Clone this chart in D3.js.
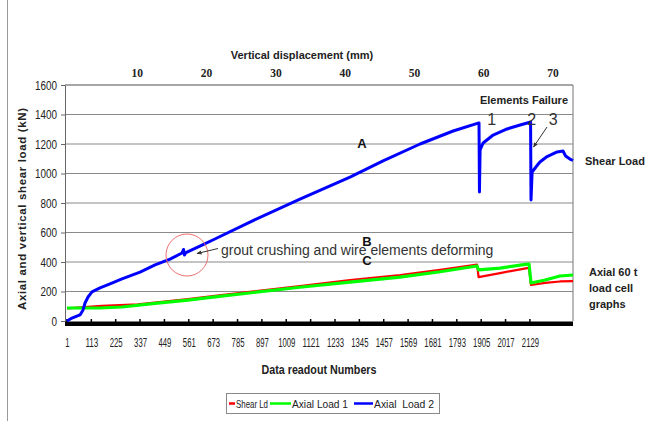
<!DOCTYPE html>
<html><head><meta charset="utf-8">
<script src="https://cdn.jsdelivr.net/npm/d3@7"></script>
<style>body{margin:0;background:#fff}svg{display:block}</style>
</head><body>
<svg id="c" width="649" height="421"></svg>
<script>
// readout numbers and loads (kN)
const blueN = [1,24,61,75,84,98,116,153,199,254,337,406,475,530,537,541,548,612,681,842,1072,1302,1454,1624,1776,1891,1895,1897,1900,1914,1960,2024,2084,2125,2132,2134,2139,2160,2175,2208,2254,2281,2293,2313,2327];
const blueV = [0,20,41,75,122,163,197,224,251,285,332,380,420,461,485,447,464,508,556,671,827,976,1085,1200,1288,1342,1342,875,1160,1207,1261,1302,1329,1346,1349,820,1010,1051,1078,1115,1146,1153,1119,1098,1088];
const greenN = [1,153,254,406,557,681,1072,1302,1532,1716,1886,1893,1992,2116,2125,2134,2199,2267,2327];
const greenV = [88,88,95,119,142,163,229,264,298,334,373,346,359,386,386,258,278,305,312];
const redN = [1,161,327,557,681,1072,1302,1532,1716,1886,1893,1992,2116,2125,2134,2199,2267,2327];
const redV = [86,102,113,149,170,237,278,312,346,383,298,325,359,359,244,258,268,271];
const yTicks = [0,200,400,600,800,1000,1200,1400,1600];
const xTickLabels = [1,113,225,337,449,561,673,785,897,1009,1121,1233,1345,1457,1569,1681,1793,1905,2017,2129];
const topTicks = [10,20,30,40,50,60,70];
const seriesNames = ["Shear Ld","Axial Load 1","Axial  Load 2"];
const seriesColors = ["#ff0000","#00ff00","#0000ff"];

const svg = d3.select("#c");
const sans = "'Liberation Sans',Arial,sans-serif";
const x = d3.scaleLinear().domain([-8,2327]).range([65,573]);
const y = d3.scaleLinear().domain([0,1600]).range([321,85]);
const xmm = d3.scaleLinear().domain([0,70]).range([67.5,552.6]);
const narrowLen = (s, w) => String(s).length * w;

// outer frame left line
svg.append("line").attr("x1",7.5).attr("x2",7.5).attr("y1",0).attr("y2",421).attr("stroke","#999").attr("stroke-width",1);

// gridlines
svg.append("g").selectAll("line").data(yTicks.filter(d=>d>0)).join("line")
  .attr("x1",65).attr("x2",573).attr("y1",d=>y(d)).attr("y2",d=>y(d))
  .attr("stroke","#8a8a8a").attr("stroke-width",1.2);
svg.append("line").attr("x1",573).attr("x2",573).attr("y1",y(1600)).attr("y2",y(0)).attr("stroke","#8a8a8a").attr("stroke-width",1.2);

// y axis
const yAxis = d3.axisLeft(y).tickValues(yTicks).tickSize(4).tickPadding(4).tickFormat(d3.format("d"));
const gy = svg.append("g").attr("transform","translate(65,0)").call(yAxis);
gy.select(".domain").attr("stroke","#666");
gy.selectAll(".tick line").attr("stroke","#666");
gy.selectAll("text").attr("font-family",sans).attr("font-size",12.5).attr("fill","#222")
  .attr("textLength",d=>narrowLen(d,5.5)).attr("lengthAdjust","spacingAndGlyphs");

// bottom axis band
svg.append("rect").attr("x",65).attr("y",321.5).attr("width",508).attr("height",4.5).attr("fill","#000");
const xAxis = d3.axisBottom(x).tickValues(xTickLabels).tickSize(0).tickPadding(15).tickFormat(d3.format("d"));
const gx = svg.append("g").attr("transform","translate(0,323)").call(xAxis);
gx.select(".domain").remove();
gx.selectAll("text").attr("font-family",sans).attr("font-size",12.5).attr("fill","#222")
  .attr("textLength",d=>narrowLen(d,4.3)).attr("lengthAdjust","spacingAndGlyphs");
svg.append("g").selectAll("line").data(xTickLabels).join("line")
  .attr("x1",d=>x(d)).attr("x2",d=>x(d)).attr("y1",319).attr("y2",322).attr("stroke","#000").attr("stroke-width",1.5);

// top axis
const tAxis = d3.axisTop(xmm).tickValues(topTicks).tickSize(0).tickPadding(8);
const gt = svg.append("g").attr("transform","translate(0,85)").call(tAxis);
gt.select(".domain").attr("stroke","#8a8a8a").attr("stroke-width",1.2).attr("d","M65,0H573");
gt.selectAll("text").attr("font-family","'Liberation Serif','Times New Roman',serif").attr("font-weight","bold").attr("font-size",11.5).attr("fill","#222");

// titles
svg.append("text").attr("x",302).attr("y",59).attr("text-anchor","middle").attr("font-family",sans).attr("font-weight","bold").attr("font-size",11).attr("fill","#222").text("Vertical displacement (mm)");
svg.append("text").attr("x",319).attr("y",374).attr("text-anchor","middle").attr("font-family",sans).attr("font-weight","bold").attr("font-size",12.5).attr("fill","#222")
  .attr("textLength",115).attr("lengthAdjust","spacingAndGlyphs").text("Data readout Numbers");
svg.append("text").attr("transform","translate(26,209) rotate(-90)").attr("text-anchor","middle")
  .attr("font-family",sans).attr("font-weight","bold").attr("font-size",11.5).attr("fill","#222")
  .attr("textLength",202).attr("lengthAdjust","spacing").text("Axial and vertical shear load (kN)");

// lines
const line = d3.line().x(d=>x(d[0])).y(d=>y(d[1]));
const series = [
  {n:redN,v:redV,c:seriesColors[0],w:2.2},
  {n:greenN,v:greenV,c:seriesColors[1],w:3.2},
  {n:blueN,v:blueV,c:seriesColors[2],w:3}
];
series.forEach(s=>{
  svg.append("path").datum(s.n.map((n,i)=>[n,s.v[i]])).attr("d",line)
    .attr("fill","none").attr("stroke",s.c).attr("stroke-width",s.w).attr("stroke-linejoin","round");
});

// annotations
const defs = svg.append("defs");
defs.append("marker").attr("id","ah").attr("viewBox","0 0 10 10").attr("refX",9).attr("refY",5)
  .attr("markerWidth",5).attr("markerHeight",5).attr("orient","auto")
  .append("path").attr("d","M0,1L10,5L0,9z").attr("fill","#333");
svg.append("circle").attr("cx",187).attr("cy",255).attr("r",21).attr("fill","none").attr("stroke","#f07070").attr("stroke-width",1);
svg.append("line").attr("x1",218).attr("y1",248.5).attr("x2",197).attr("y2",253.5).attr("stroke","#333").attr("stroke-width",1).attr("marker-end","url(#ah)");
svg.append("text").attr("x",221).attr("y",255).attr("font-family",sans).attr("font-size",14).attr("fill","#333").text("grout crushing and wire elements deforming");
svg.append("text").attr("x",362).attr("y",148).attr("text-anchor","middle").attr("font-family",sans).attr("font-weight","bold").attr("font-size",13).attr("fill","#111").text("A");
svg.append("text").attr("x",367).attr("y",246).attr("text-anchor","middle").attr("font-family",sans).attr("font-weight","bold").attr("font-size",13).attr("fill","#111").text("B");
svg.append("text").attr("x",367).attr("y",265).attr("text-anchor","middle").attr("font-family",sans).attr("font-weight","bold").attr("font-size",13).attr("fill","#111").text("C");
svg.append("text").attr("x",524).attr("y",104).attr("text-anchor","middle").attr("font-family",sans).attr("font-weight","bold").attr("font-size",11).attr("fill","#222").text("Elements Failure");
[["1",491.7],["2",531.7],["3",553.3]].forEach(([t,px])=>{
  svg.append("text").attr("x",px).attr("y",125).attr("text-anchor","middle").attr("font-family",sans).attr("font-size",16).attr("fill","#333").text(t);
});
svg.append("line").attr("x1",547).attr("y1",127).attr("x2",533.5).attr("y2",147).attr("stroke","#333").attr("stroke-width",1).attr("marker-end","url(#ah)");
svg.append("text").attr("x",585).attr("y",165).attr("font-family",sans).attr("font-weight","bold").attr("font-size",11).attr("fill","#222").text("Shear Load");
["Axial 60 t","load cell","graphs"].forEach((t,i)=>{
  svg.append("text").attr("x",589).attr("y",276+i*16).attr("font-family",sans).attr("font-weight","bold").attr("font-size",11).attr("fill","#222").text(t);
});

// legend
const lg = svg.append("g");
lg.append("rect").attr("x",226.5).attr("y",393.5).attr("width",213).attr("height",20).attr("fill","#fff").attr("stroke","#888");
const lx = [[229,236],[270,292],[354,374]];
const lw = [32,56,60];
seriesNames.forEach((nm,i)=>{
  lg.append("line").attr("x1",lx[i][0]).attr("x2",lx[i][1]-1).attr("y1",403.5).attr("y2",403.5).attr("stroke",seriesColors[i]).attr("stroke-width",2.5);
  lg.append("text").attr("x",lx[i][1]).attr("y",407.5).attr("font-family",sans).attr("font-size",11).attr("fill","#222")
    .attr("textLength",lw[i]).attr("lengthAdjust","spacingAndGlyphs").attr("xml:space","preserve").text(nm);
});
</script>
</body></html>
